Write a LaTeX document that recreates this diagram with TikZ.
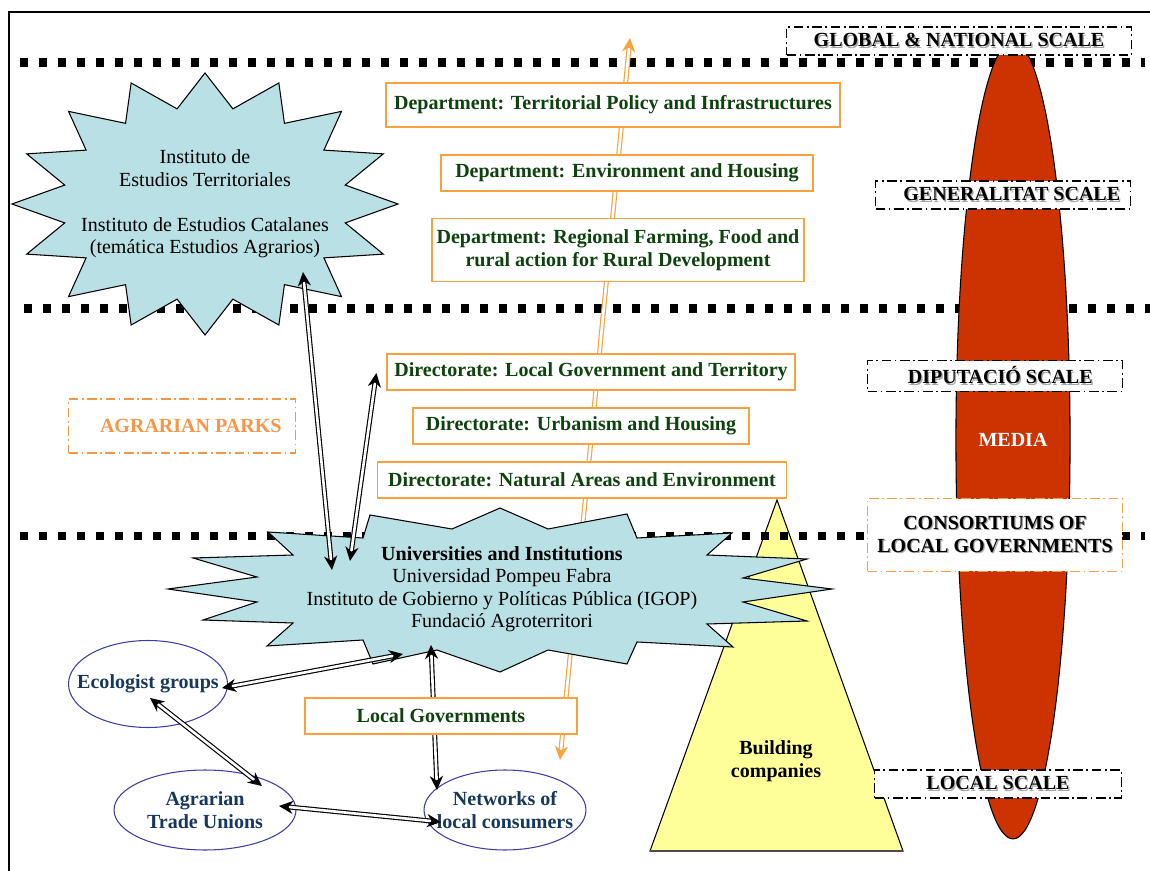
\documentclass[tikz,border=0pt]{standalone}
\usepackage{fontspec}
\setmainfont{Liberation Serif}
\usetikzlibrary{arrows.meta,positioning,shapes.geometric,calc}

\definecolor{boxorange}{RGB}{250,160,60}
\definecolor{deptgreen}{RGB}{14,66,14}
\definecolor{burstblue}{RGB}{185,224,228}
\definecolor{mediared}{RGB}{204,51,0}
\definecolor{buildyellow}{RGB}{255,255,153}
\definecolor{ellblue}{RGB}{60,60,170}
\definecolor{elltext}{RGB}{23,55,94}
\definecolor{parkorange}{RGB}{247,150,70}

\newcommand{\labelfont}{\fontsize{11.4}{12.8}\selectfont}
% text with a light drop shadow, as on the scale labels
\newcommand{\shadowed}[1]{\makebox[0pt][l]{\hspace{0.7pt}\raisebox{-0.7pt}{\textcolor{black!35}{#1}}}#1}

\begin{document}
\begin{tikzpicture}[
    x=0.02cm, y=-0.02cm,
    font=\labelfont,
    dept/.style={draw=boxorange, fill=white, line width=0.8pt, text=deptgreen, font=\labelfont\bfseries, align=center, inner sep=2pt, minimum height=0.72cm},
    scalebox/.style={draw, fill=white, line width=0.7pt, dash pattern=on 5.5pt off 2pt on 1pt off 2pt, font=\labelfont\bfseries, align=center, minimum height=0.56cm},
    group/.style={ellipse, draw=ellblue, line width=0.6pt, text=elltext, font=\labelfont\bfseries, align=center, inner xsep=-9pt, inner ysep=0pt},
    burst/.style={draw, fill=burstblue, line width=0.6pt, line join=miter},
    level/.style={line width=0.18cm, dash pattern=on 0.17cm off 0.21cm},
    twoway/.style={double, double distance=1.5pt, line width=0.65pt, {Stealth[length=8pt,width=7.5pt]}-{Stealth[length=8pt,width=7.5pt]}}
  ]
    \useasboundingbox (0,0) rectangle (1150,871);

    % frame
    \draw[line width=1.1pt] (9,871) -- (9,12) -- (1150,12);

    % building companies
    \draw[fill=buildyellow, line width=0.6pt] (777,500) -- (903,851) -- (650,851) -- cycle;
    \draw[black!70, line width=1.2pt] (650,851) -- (903,851);
    \node[font=\labelfont\bfseries, align=center] (build) at (776,761) {Building\\companies};

    % scale separators
    \draw[level] (20,63) -- (1145,63);
    \draw[level] (24,309) -- (1150,309);
    \draw[level] (20,536) -- (1145,536);

    % media
    \node[ellipse, draw, fill=mediared, line width=0.6pt, minimum width=2.16cm, minimum height=15.96cm, text=white, font=\labelfont\bfseries] (media) at (1013,440) {MEDIA};

    % scales
    \node[scalebox, minimum width=6.9cm] (global) at (959,41) {\shadowed{GLOBAL \& NATIONAL SCALE}};
    \node[scalebox, minimum width=5.1cm] (gen) at (1003,195) {\hspace{10pt}\shadowed{GENERALITAT SCALE}};
    \node[scalebox, minimum width=5.1cm] (dip) at (995,376) {\hspace{6pt}\shadowed{DIPUTACIÓ SCALE}};
    \node[scalebox, draw=boxorange, minimum width=5.1cm, minimum height=1.46cm] (cons) at (995,535) {\shadowed{CONSORTIUMS OF}\\\shadowed{LOCAL GOVERNMENTS}};
    \node[scalebox, minimum width=4.94cm] (local) at (998,784) {\shadowed{LOCAL SCALE}};
    \node[scalebox, draw=parkorange, text=parkorange, minimum width=4.54cm, minimum height=1.08cm] (parks) at (182,426) {\hspace{10pt}AGRARIAN PARKS};

    % administration levels
    \coordinate (up) at (630,38);
    \coordinate (down) at (560,760);
    \draw[twoway, draw=boxorange] (down) -- (up);

    \node[dept, minimum width=9.08cm, minimum height=0.88cm] (terr) at (613,105) {Department: Territorial Policy and Infrastructures};
    \node[dept, minimum width=7.44cm] (envh) at (627,173) {Department: Environment and Housing};
    \node[dept, minimum width=7.44cm, minimum height=1.26cm] (farm) at (618,250) {Department: Regional Farming, Food and\\rural action for Rural Development};
    \node[dept, minimum width=8.16cm] (lgt) at (591,372) {Directorate: Local Government and Territory};
    \node[dept, minimum width=6.72cm] (urb) at (581,426) {Directorate: Urbanism and Housing};
    \node[dept, minimum width=8.18cm] (nat) at (582,480) {Directorate: Natural Areas and Environment};

    % institutes
    \draw[burst] (398,204) \foreach \k in {1,...,31}{
      -- ({205+(mod(\k,2)==0 ? 193 : 143)*cos(\k*11.25)}, {204-(mod(\k,2)==0 ? 131 : 97)*sin(\k*11.25)})} -- cycle;
    \node[align=center] (iet) at (205,204) {Instituto de\\Estudios Territoriales\\[12.8pt]Instituto de Estudios Catalanes\\(temática Estudios Agrarios)};

    \draw[burst] (268,532) -- (363,538) -- (370,515) -- (452,529) -- (500,508) -- (548,529) -- (627,514)
      -- (637,538) -- (732,533) -- (707,555) -- (807,559) -- (743,578) -- (832,589) -- (743,602)
      -- (807,621) -- (707,624) -- (733,647) -- (637,642) -- (627,664) -- (548,650) -- (500,672)
      -- (437,650) -- (373,664) -- (363,640) -- (267,646) -- (293,623) -- (203,620) -- (257,602)
      -- (168,589) -- (257,577) -- (193,558) -- (293,555) -- cycle;
    \node[align=center] (uni) at (502,589) {\textbf{Universities and Institutions}\\Universidad Pompeu Fabra\\Instituto de Gobierno y Políticas Pública (IGOP)\\Fundació Agroterritori};

    % local actors
    \node[group, minimum width=3.18cm, minimum height=1.74cm] (eco) at (148,684) {Ecologist groups};
    \node[group, minimum width=3.64cm, minimum height=1.6cm] (atu) at (205,810) {Agrarian\\Trade Unions};
    \node[group, minimum width=3.24cm, minimum height=1.6cm] (net) at (505,810) {Networks of\\local consumers};

    \draw[twoway] ($(iet)+(98,68)$) -- ($(uni)+(-170,-19)$);
    \draw[twoway] ($(lgt.west)+(-10,1)$) -- ($(uni)+(-152,-28)$);
    \draw[twoway] ($(eco)+(74,4)$) -- ($(uni)+(-99,65)$);
    \draw[twoway] ($(eco)+(2,14)$) -- ($(atu)+(57,-24)$);
    \draw[twoway] ($(atu)+(74,-4)$) -- ($(net)+(-64,12)$);
    \draw[twoway] ($(uni)+(-71,56)$) -- ($(net)+(-68,-20)$);

    \node[dept, minimum width=5.44cm] (lg) at (441,716) {Local Governments};
  \end{tikzpicture}
\end{document}
